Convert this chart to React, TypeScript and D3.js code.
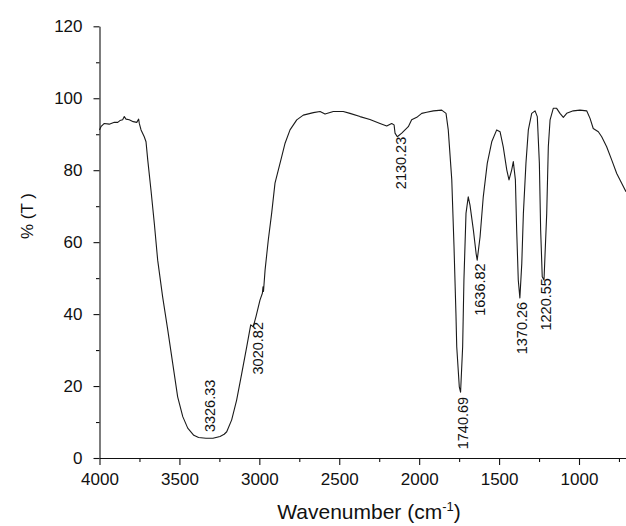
import React, { useEffect, useRef } from 'react';
import * as d3 from 'd3';

// FTIR spectrum
const wavenumber = [
  4000, 3991, 3970, 3939, 3907, 3886, 3872, 3855, 3845, 3834, 3814, 3789, 3767, 3755, 3751,
  3740, 3720, 3709, 3698, 3678, 3657, 3636, 3605, 3573, 3542, 3511, 3479, 3448, 3410, 3380,
  3334, 3290, 3246, 3220, 3204, 3173, 3142, 3110, 3079, 3054, 3038, 3021, 2996, 2981, 2977,
  2974, 2964, 2944, 2923, 2902, 2881, 2860, 2839, 2808, 2766, 2725, 2662, 2620, 2589, 2537,
  2475, 2433, 2370, 2308, 2245, 2203, 2172, 2157, 2151, 2137, 2109, 2068, 2047, 2015, 1984,
  1953, 1911, 1859, 1832, 1818, 1796, 1782, 1770, 1765, 1749, 1741, 1728, 1720, 1707, 1693,
  1682, 1661, 1644, 1637, 1619, 1599, 1574, 1546, 1515, 1494, 1474, 1452, 1438, 1421, 1411,
  1398, 1390, 1380, 1370, 1358, 1348, 1332, 1317, 1296, 1275, 1261, 1248, 1240, 1230, 1219,
  1202, 1192, 1181, 1161, 1140, 1119, 1098, 1077, 1036, 994, 952, 931, 911, 879, 858,
  827, 795, 764, 733, 706,
];
const transmittance = [
  91.2, 92.1, 93.0, 92.8, 93.3, 93.3, 93.8, 94.0, 94.9, 94.2, 94.0, 93.5, 93.3, 94.2, 93.0,
  91.2, 89.3, 87.9, 82.8, 74.5, 65.2, 55.0, 44.8, 35.6, 26.3, 17.0, 11.5, 8.3, 6.3, 5.7,
  5.5, 5.5, 6.0, 6.6, 7.3, 10.6, 16.1, 23.5, 30.9, 37.0, 36.5, 39.3, 43.9, 45.8, 47.6,
  46.3, 52.3, 60.6, 68.0, 76.4, 80.1, 83.8, 87.5, 91.2, 94.0, 95.3, 96.0, 96.3, 95.6, 96.3,
  96.3, 95.8, 94.9, 94.1, 93.0, 92.3, 93.0, 92.6, 90.3, 89.3, 90.3, 92.1, 94.0, 94.7, 95.8,
  96.1, 96.5, 96.7, 95.8, 91.2, 77.3, 58.7, 40.2, 30.9, 19.8, 18.3, 30.9, 49.5, 68.0, 72.6,
  70.3, 63.4, 56.9, 55.0, 61.5, 72.6, 81.9, 87.9, 91.2, 90.7, 86.5, 80.1, 77.3, 80.1, 82.4,
  77.3, 63.4, 49.5, 44.5, 54.1, 68.0, 81.9, 91.2, 95.8, 96.5, 94.9, 81.9, 63.4, 50.4, 49.5,
  68.0, 86.5, 94.0, 97.2, 97.2, 95.8, 94.7, 95.8, 96.5, 96.7, 96.5, 94.4, 91.6, 90.7, 89.3,
  86.5, 82.8, 79.1, 76.4, 74.0,
];

// peak annotations: text, %T where the label starts, side of the curve
const peakLabels = ['3326.33', '3020.82', '2130.23', '1740.69', '1636.82', '1370.26', '1220.55'];
const peakLabelT = [7.2, 37.8, 89.3, 17.0, 54.1, 43.4, 50.0];
const peakLabelSide = ['above', 'below', 'below', 'below', 'below', 'below', 'below'];

const xTicks = [4000, 3500, 3000, 2500, 2000, 1500, 1000];
const xMinorTicks = [3750, 3250, 2750, 2250, 1750, 1250, 750];
const yTicks = [0, 20, 40, 60, 80, 100, 120];
const yMinorTicks = [10, 30, 50, 70, 90, 110];

const W = 626;
const H = 526;
const FONT = '"Liberation Sans", Arial, Helvetica, sans-serif';
const INK = '#111';

export default function App() {
  const svgRef = useRef<SVGSVGElement>(null);

  useEffect(() => {
    const svg = d3.select(svgRef.current);
    svg.selectAll('*').remove();

    const x = d3.scaleLinear().domain([4000, 706]).range([99.5, 626]);
    const y = d3.scaleLinear().domain([0, 120]).range([458, 26.3]);
    const y0 = y(0);
    const x0 = x(4000);

    // Axes
    const xAxis = svg.append('g')
      .attr('transform', `translate(0,${y0})`)
      .call(d3.axisBottom(x).tickValues(xTicks).tickSize(7).tickSizeOuter(0).tickPadding(8).tickFormat(d3.format('d')));
    xAxis.attr('font-size', 17).attr('font-family', FONT);

    svg.append('g')
      .attr('transform', `translate(0,${y0})`)
      .call(d3.axisBottom(x).tickValues(xMinorTicks).tickSize(4).tickFormat(() => ''))
      .call(g => g.select('.domain').remove());

    const yAxis = svg.append('g')
      .attr('transform', `translate(${x0},0)`)
      .call(d3.axisLeft(y).tickValues(yTicks).tickSize(6).tickSizeOuter(0).tickPadding(11));
    yAxis.attr('font-size', 17).attr('font-family', FONT);

    svg.append('g')
      .attr('transform', `translate(${x0},0)`)
      .call(d3.axisLeft(y).tickValues(yMinorTicks).tickSize(3.5).tickFormat(() => ''))
      .call(g => g.select('.domain').remove());

    svg.selectAll('.domain, .tick line').attr('stroke', INK).attr('stroke-width', 1.1);
    svg.selectAll('.tick text').attr('fill', INK);

    // Spectrum
    const pts: [number, number][] = wavenumber.map((w, i) => [w, transmittance[i]]);
    const line = d3.line<[number, number]>()
      .x(d => x(d[0]))
      .y(d => y(d[1]));

    svg.append('path')
      .datum(pts)
      .attr('d', line)
      .attr('fill', 'none')
      .attr('stroke', '#1a1a1a')
      .attr('stroke-width', 1.1)
      .attr('stroke-linejoin', 'round');

    // Peak labels (rotated, reading upward)
    peakLabels.forEach((label, i) => {
      const cx = x(+label) + 2.5;
      const cy = y(peakLabelT[i]);
      svg.append('text')
        .attr('x', cx)
        .attr('y', cy)
        .attr('transform', `rotate(-90,${cx},${cy})`)
        .attr('text-anchor', peakLabelSide[i] === 'above' ? 'start' : 'end')
        .attr('dominant-baseline', 'central')
        .attr('font-family', FONT)
        .attr('font-size', 14.5)
        .attr('fill', INK)
        .text(label);
    });

    // Axis titles
    svg.append('text')
      .attr('transform', 'translate(27,216) rotate(-90)')
      .attr('text-anchor', 'middle')
      .attr('dominant-baseline', 'central')
      .attr('font-family', FONT)
      .attr('font-size', 17)
      .attr('fill', INK)
      .text('% (T )');

    const xt = svg.append('text')
      .attr('x', 369)
      .attr('y', 519)
      .attr('text-anchor', 'middle')
      .attr('font-family', FONT)
      .attr('font-size', 21)
      .attr('fill', INK);
    xt.append('tspan').text('Wavenumber (cm');
    xt.append('tspan').attr('dy', -8).attr('font-size', 13).text('-1');
    xt.append('tspan').attr('dy', 8).text(')');
  }, []);

  return (
    <svg
      ref={svgRef}
      width={W}
      height={H}
      style={{ position: 'absolute', left: 0, top: 0, background: '#fff' }}
    />
  );
}
